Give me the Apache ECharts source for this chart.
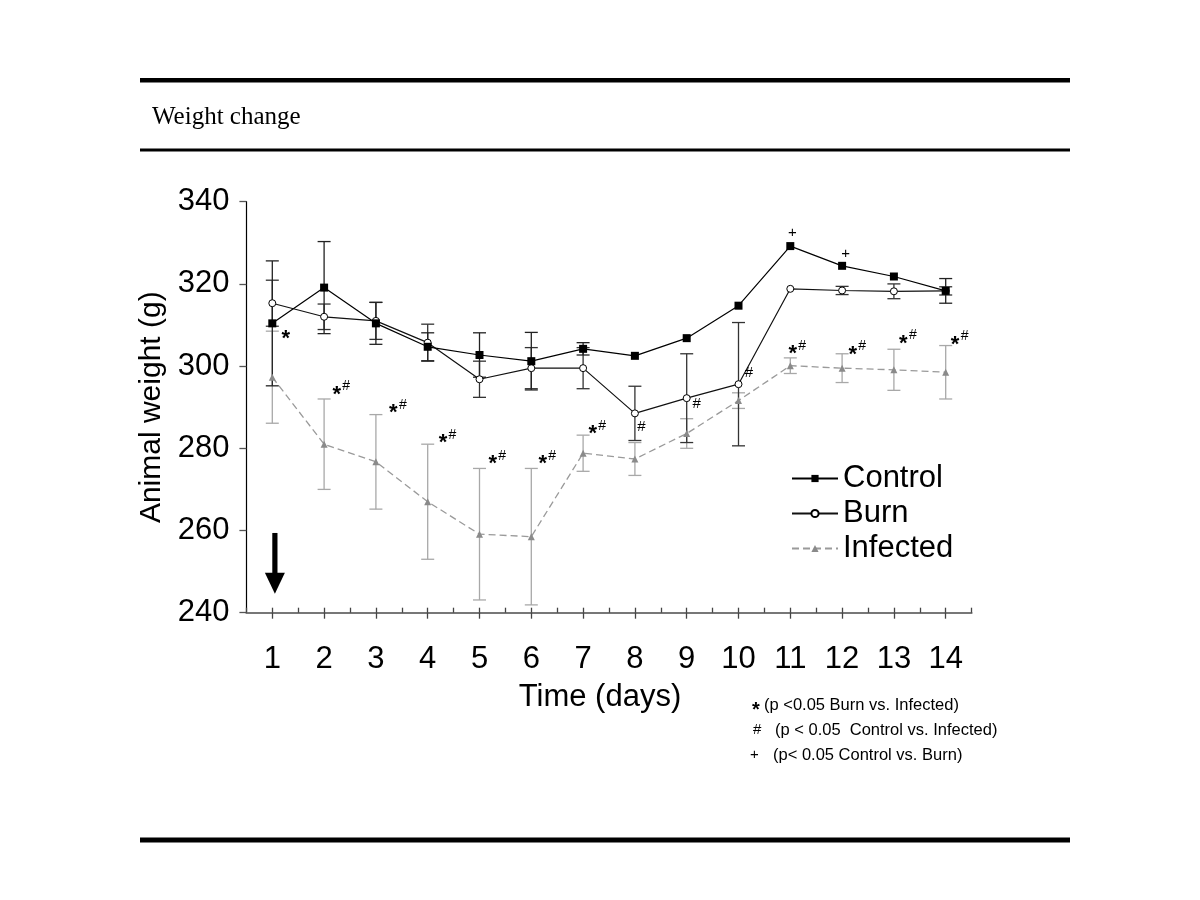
<!DOCTYPE html>
<html><head><meta charset="utf-8">
<script src="https://cdn.jsdelivr.net/npm/echarts@6/dist/echarts.min.js"></script>
<style>html,body{margin:0;padding:0;background:#fff}#c{width:1200px;height:900px}</style>
</head><body><div id="c"></div>
<script>
// ---- data ----
const days = [1,2,3,4,5,6,7,8,9,10,11,12,13,14];
const control     = [310.4,319.1,310.4,304.7,302.7,301.2,304.2,302.5,306.8,314.7,329.2,324.4,321.8,318.3];
const controlErr  = [15.2, 11.2, 5.1, 3.4, 5.4, 7.0, 1.5, 0, 0, 0, 0, 0, 0, 3.0];
const burn        = [315.3,312.0,311.0,305.7,296.8,299.5,299.5,288.5,292.2,295.6,318.8,318.4,318.2,318.3];
const burnErr     = [5.6, 3.1, 4.5, 4.5, 4.4, 5.0, 5.0, 6.6, 10.8, 15.0, 0, 1.0, 1.8, 1.0];
const infected    = [297.3,281.0,276.7,267.0,259.1,258.5,278.8,277.4,283.6,291.6,300.1,299.5,299.1,298.5];
const infectedErr = [11.2, 11.0, 11.5, 14.0, 16.0, 16.6, 4.4, 4.0, 3.6, 1.9, 1.9, 3.5, 5.0, 6.5];
// significance marks, in data units [day, weight]
const starHashMarks = [[2.243,294.2],[3.336,289.6],[4.295,282.3],[5.255,277.3],[6.220,277.3],[7.185,284.6],[11.046,304.1],[12.205,303.9],[13.181,306.6],[14.180,306.35]];
const starMarks = [[1.259,307.6]];
const hashMarks = [[8.126,285.3],[9.193,290.7],[10.203,298.4]];
const plusMarks = [[11.039,332.3],[12.069,327.2]];
const arrowMark = [[1.05,259.4,244.6]]; // x, top, tip
const seriesNames = ['Control','Burn','Infected'];

const SANS = "'Liberation Sans', Arial, sans-serif";
const SERIF = "'Liberation Serif', 'Times New Roman', serif";

function errorSeries(name, vals, errs, color) {
  const data = [];
  days.forEach((d, i) => { if (errs[i] > 0) data.push([d, vals[i] - errs[i], vals[i] + errs[i]]); });
  return {
    type: 'custom', name: name + ' err', silent: true, z: 1,
    data: data, encode: { x: 0, y: [1, 2] },
    renderItem: function (params, api) {
      const x = api.value(0);
      const p1 = api.coord([x, api.value(1)]);
      const p2 = api.coord([x, api.value(2)]);
      const w = 6.5;
      const st = { stroke: color, lineWidth: 1.3 };
      return { type: 'group', children: [
        { type: 'line', shape: { x1: p1[0], y1: p1[1], x2: p2[0], y2: p2[1] }, style: st },
        { type: 'line', shape: { x1: p1[0] - w, y1: p1[1], x2: p1[0] + w, y2: p1[1] }, style: st },
        { type: 'line', shape: { x1: p2[0] - w, y1: p2[1], x2: p2[0] + w, y2: p2[1] }, style: st }
      ]};
    }
  };
}

function markSeries(name, data, kind) {
  return {
    type: 'custom', name: name, silent: true, z: 5, data: data,
    encode: { x: 0, y: 1 },
    renderItem: function (params, api) {
      const p = api.coord([api.value(0), api.value(1)]);
      const children = [];
      if (kind === 'star' || kind === 'starhash') {
        children.push({ type: 'text', x: p[0], y: p[1] + 4.5, style: { text: '*', fill: '#000', font: 'bold 22px ' + SANS, align: 'center', verticalAlign: 'middle' } });
      }
      if (kind === 'starhash') {
        children.push({ type: 'text', x: p[0] + 9.5, y: p[1] - 3.5, style: { text: '#', fill: '#000', font: '14px ' + SANS, align: 'center', verticalAlign: 'middle' } });
      }
      if (kind === 'hash') {
        children.push({ type: 'text', x: p[0], y: p[1], style: { text: '#', fill: '#000', font: '15px ' + SANS, align: 'center', verticalAlign: 'middle' } });
      }
      if (kind === 'plus') {
        children.push({ type: 'text', x: p[0], y: p[1], style: { text: '+', fill: '#000', font: '15px ' + SANS, align: 'center', verticalAlign: 'middle' } });
      }
      return { type: 'group', children: children };
    }
  };
}

const arrowSeries = {
  type: 'custom', name: 'arrow', silent: true, z: 5, data: arrowMark,
  encode: { x: 0, y: [1, 2] },
  renderItem: function (params, api) {
    const x = api.value(0);
    const top = api.coord([x, api.value(1)]);
    const tip = api.coord([x, api.value(2)]);
    const headH = 21, headW = 10, shaftW = 2.6;
    return { type: 'group', children: [
      { type: 'rect', shape: { x: top[0] - shaftW, y: top[1], width: shaftW * 2, height: tip[1] - top[1] - headH + 1 }, style: { fill: '#000' } },
      { type: 'polygon', shape: { points: [[tip[0] - headW, tip[1] - headH], [tip[0] + headW, tip[1] - headH], [tip[0], tip[1]]] }, style: { fill: '#000' } }
    ]};
  }
};

const chart = echarts.init(document.getElementById('c'), null, { renderer: 'canvas' });
chart.setOption({
  animation: false,
  backgroundColor: '#fff',
  grid: { left: 246.4, right: 228.4, top: 201.7, bottom: 287.3 },
  legend: {
    data: seriesNames, orient: 'vertical', left: 786, top: 458,
    itemWidth: 46, itemHeight: 9, itemGap: 4,
    textStyle: { fontSize: 31, fontFamily: SANS, color: '#000', lineHeight: 31 },
    selectedMode: false
  },
  xAxis: [{
    type: 'value', min: 0.5, max: 14.5, interval: 0.5,
    axisLine: { show: true, lineStyle: { color: '#777', width: 2 } },
    axisTick: { show: true, inside: true, length: 5, lineStyle: { color: '#444', width: 1.3 } },
    axisLabel: { customValues: days, fontSize: 31, fontFamily: SANS, color: '#000', margin: 31 },
    splitLine: { show: false },
    name: 'Time (days)', nameLocation: 'middle', nameGap: 69,
    nameTextStyle: { fontSize: 31, fontFamily: SANS, color: '#000', padding: [0, 18, 0, 0] }
  }, {
    type: 'value', min: 0.5, max: 14.5, interval: 0.5, position: 'bottom', offset: 0,
    axisLine: { show: false },
    axisTick: { show: true, inside: false, length: 6, customValues: days, lineStyle: { color: '#444', width: 1.3 } },
    axisLabel: { show: false },
    splitLine: { show: false }
  }],
  yAxis: {
    type: 'value', min: 240, max: 340, interval: 20,
    axisLine: { show: true, lineStyle: { color: '#000', width: 1.2 } },
    axisTick: { show: true, inside: false, length: 7, lineStyle: { color: '#555', width: 1.3 } },
    axisLabel: { fontSize: 31, fontFamily: SANS, color: '#000', margin: 17 },
    splitLine: { show: false },
    name: 'Animal weight (g)', nameLocation: 'middle', nameGap: 78,
    nameTextStyle: { fontSize: 30, fontFamily: SANS, color: '#000' }
  },
  series: [
    errorSeries('Infected', infected, infectedErr, '#a8a8a8'),
    errorSeries('Burn', burn, burnErr, '#333'),
    errorSeries('Control', control, controlErr, '#222'),
    {
      name: 'Infected', type: 'line', z: 2,
      data: days.map((d, i) => [d, infected[i]]),
      symbol: 'triangle', symbolSize: 7,
      itemStyle: { color: '#8a8a8a' },
      lineStyle: { color: '#9a9a9a', width: 1.3, type: [7, 4] }
    },
    {
      name: 'Burn', type: 'line', z: 3,
      data: days.map((d, i) => [d, burn[i]]),
      symbol: 'circle', symbolSize: 7,
      itemStyle: { color: '#fff', borderColor: '#000', borderWidth: 1 },
      lineStyle: { color: '#111', width: 1.2 }
    },
    {
      name: 'Control', type: 'line', z: 4,
      data: days.map((d, i) => [d, control[i]]),
      symbol: 'rect', symbolSize: 8,
      itemStyle: { color: '#000' },
      lineStyle: { color: '#000', width: 1.2 }
    },
    markSeries('starhash', starHashMarks, 'starhash'),
    markSeries('star', starMarks, 'star'),
    markSeries('hash', hashMarks, 'hash'),
    markSeries('plus', plusMarks, 'plus'),
    arrowSeries
  ],
  graphic: [
    { type: 'rect', shape: { x: 140, y: 78, width: 930, height: 4.5 }, style: { fill: '#000' } },
    { type: 'rect', shape: { x: 140, y: 148.5, width: 930, height: 3 }, style: { fill: '#000' } },
    { type: 'rect', shape: { x: 140, y: 837.5, width: 930, height: 5 }, style: { fill: '#000' } },
    { type: 'text', x: 152, y: 117, style: { text: 'Weight change', font: '25px ' + SERIF, fill: '#000', verticalAlign: 'middle' } },
    { type: 'text', x: 752, y: 710, style: { text: '*', font: 'bold 20px ' + SANS, fill: '#000', verticalAlign: 'middle' } },
    { type: 'text', x: 764, y: 705, style: { text: '(p <0.05 Burn vs. Infected)', font: '16.5px ' + SANS, fill: '#000', verticalAlign: 'middle' } },
    { type: 'text', x: 753, y: 730, style: { text: '#', font: '15px ' + SANS, fill: '#000', verticalAlign: 'middle' } },
    { type: 'text', x: 775, y: 730, style: { text: '(p < 0.05  Control vs. Infected)', font: '16.5px ' + SANS, fill: '#000', verticalAlign: 'middle' } },
    { type: 'text', x: 750, y: 755, style: { text: '+', font: '15px ' + SANS, fill: '#000', verticalAlign: 'middle' } },
    { type: 'text', x: 773, y: 755, style: { text: '(p< 0.05 Control vs. Burn)', font: '16.5px ' + SANS, fill: '#000', verticalAlign: 'middle' } }
  ]
});
</script>
</body></html>
